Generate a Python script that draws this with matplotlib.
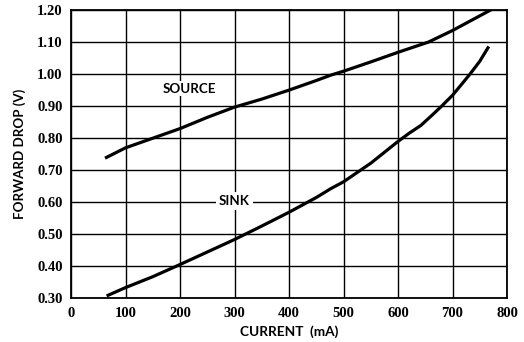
import matplotlib.pyplot as plt

# curvas
corriente_source = [65, 100, 150, 200, 250, 300, 350, 400, 450, 477, 500, 550, 600, 656, 700, 770]
caida_source = [0.74, 0.77, 0.80, 0.83, 0.865, 0.897, 0.922, 0.95, 0.98, 0.997, 1.009, 1.038, 1.068, 1.10, 1.136, 1.20]

corriente_sink = [68, 100, 150, 200, 250, 300, 350, 400, 450, 477, 500, 531, 550, 575, 600,
                  620, 642, 660, 680, 700, 720, 732, 750, 765]
caida_sink = [0.31, 0.334, 0.368, 0.406, 0.445, 0.484, 0.526, 0.569, 0.615, 0.643, 0.664, 0.70, 0.722, 0.756, 0.79,
              0.815, 0.84, 0.868, 0.90, 0.934, 0.975, 1.00, 1.04, 1.082]

xticks = [0, 100, 200, 300, 400, 500, 600, 700, 800]
yticks = [0.30, 0.40, 0.50, 0.60, 0.70, 0.80, 0.90, 1.00, 1.10, 1.20]

fuente = "Lato"

fig = plt.figure(figsize=(5.24, 3.42), dpi=100)
ax = fig.add_axes([0.1355, 0.1272, 0.8321, 0.8436])

ax.plot(corriente_source, caida_source, color="black", linewidth=2.3, solid_joinstyle="round")
ax.plot(corriente_sink, caida_sink, color="black", linewidth=2.3, solid_joinstyle="round")

ax.set_xlim(0, 800)
ax.set_ylim(0.30, 1.20)
ax.set_xticks(xticks)
ax.set_yticks(yticks)
ax.set_xticklabels([str(v) for v in xticks], fontfamily="Liberation Serif", fontweight="bold", fontsize=10.5)
ax.set_yticklabels([f"{v:.2f}" for v in yticks], fontfamily="Liberation Serif", fontweight="bold", fontsize=10.5)
ax.tick_params(length=0, pad=6)
ax.grid(True, color="black", linewidth=1.0)
ax.set_axisbelow(True)
for s in ax.spines.values():
    s.set_linewidth(1.3)

ax.text(217, 0.955, "SOURCE", fontfamily=fuente, fontweight="bold", fontsize=9.6,
        ha="center", va="center",
        bbox=dict(facecolor="white", edgecolor="none", pad=1.0))
ax.text(300, 0.604, "SINK", fontfamily=fuente, fontweight="bold", fontsize=9.6,
        ha="center", va="center",
        bbox=dict(facecolor="white", edgecolor="none", pad=2.0))

ax.set_xlabel("CURRENT  (mA)", fontfamily=fuente, fontweight="bold", fontsize=9.8, labelpad=4)
ax.set_ylabel("FORWARD DROP (V)", fontfamily=fuente, fontweight="bold", fontsize=9.6, labelpad=8)

fig.savefig("out.png", dpi=100)
